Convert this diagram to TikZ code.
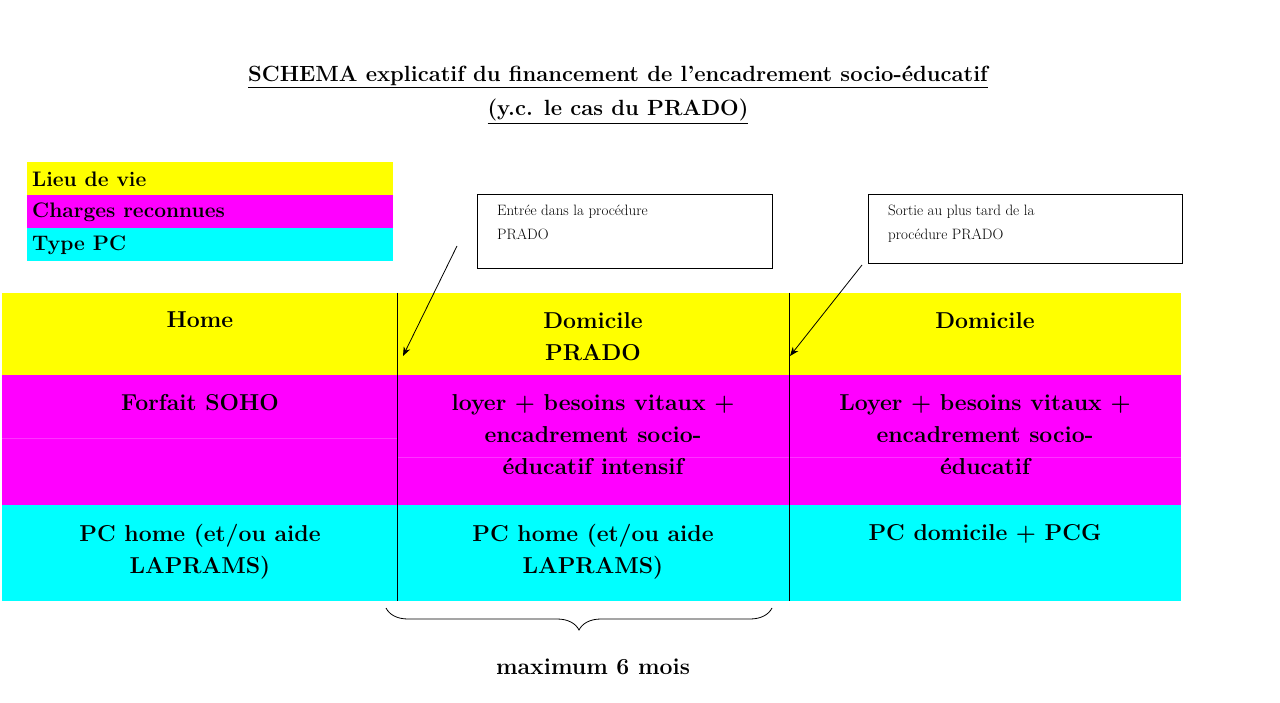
\documentclass[tikz,border=0pt]{standalone}
\usetikzlibrary{arrows.meta,decorations.pathreplacing}
\definecolor{jaune}{RGB}{255,255,0}
\definecolor{magenta}{RGB}{255,0,255}
\definecolor{cyan}{RGB}{0,255,255}
\tikzset{
  cell/.style={anchor=north,align=center,inner sep=0pt,font=\fontsize{23}{32}\selectfont\bfseries},
  legende/.style={anchor=west,inner sep=0pt,font=\fontsize{21}{25}\selectfont\bfseries},
  bulle/.style={draw,thin,align=left,anchor=north west,inner sep=0pt,font=\fontsize{15}{24}\selectfont},
}
\begin{document}
\begin{tikzpicture}[x=1pt,y=-1pt]
  \useasboundingbox (0,0) rectangle (1280,703);
  % titre
  \node[font=\fontsize{22}{34}\selectfont\bfseries,align=center] (titre) at (618,95)
    {\underline{SCHEMA explicatif du financement de l'encadrement socio-éducatif}\\\underline{(y.c. le cas du PRADO)}};
  % legende
  \fill[jaune] (27,162) rectangle (393,195);
  \fill[magenta] (27,195) rectangle (393,228);
  \fill[cyan] (27,228) rectangle (393,261);
  \node[legende] (lieu) at (32,179) {Lieu de vie};
  \node[legende] (charges) at (32,212) {Charges reconnues};
  \node[legende] (type) at (32,245) {Type PC};
  % tableau
  \fill[jaune] (2,293) rectangle (1181,375);
  \fill[magenta] (2,375) rectangle (1181,505);
  \fill[cyan] (2,505) rectangle (1181,601);
  \draw[magenta!80!white,very thin] (2,438) -- (397,438);
  \draw[magenta!80!white,very thin] (397,457) -- (1181,457);
  \draw (397,293) -- (397,601);
  \draw (789,293) -- (789,601);
  \node[cell] (home) at (200,312) {Home};
  \node[cell] (prado) at (593,312) {Domicile\\PRADO};
  \node[cell] (domicile) at (985,312) {Domicile};
  \node[cell] (soho) at (200,394) {Forfait SOHO};
  \node[cell] (intensif) at (593,394) {loyer + besoins vitaux +\\encadrement socio-\\éducatif intensif};
  \node[cell] (loyer) at (985,394) {Loyer + besoins vitaux +\\encadrement socio-\\éducatif};
  \node[cell] (pchome) at (200,524) {PC home (et/ou aide\\LAPRAMS)};
  \node[cell] (pcprado) at (593,524) {PC home (et/ou aide\\LAPRAMS)};
  \node[cell] (pcg) at (985,524) {PC domicile + PCG};
  % bulles
  \draw[thin] (477,194) rectangle (772,268);
  \node[bulle,draw=none] (entree) at (497,205) {Entrée dans la procédure\\PRADO};
  \draw[thin] (868,194) rectangle (1182,263);
  \node[bulle,draw=none] (sortie) at (888,205) {Sortie au plus tard de la\\procédure PRADO};
  \coordinate (e1) at (457,246);
  \coordinate (e2) at (403,356);
  \coordinate (s1) at (862,265);
  \coordinate (s2) at (790,356);
  \draw[-{Stealth[length=9pt,width=7pt]},thick] (e1) -- (e2);
  \draw[-{Stealth[length=9pt,width=7pt]},thick] (s1) -- (s2);
  % accolade
  \coordinate (b1) at (386,608);
  \coordinate (b2) at (772,608);
  \draw[thick,decorate,decoration={brace,mirror,amplitude=22pt}] (b1) -- (b2);
  \node[font=\fontsize{23}{28}\selectfont\bfseries] (duree) at (593,667) {maximum 6 mois};
\end{tikzpicture}
\end{document}
